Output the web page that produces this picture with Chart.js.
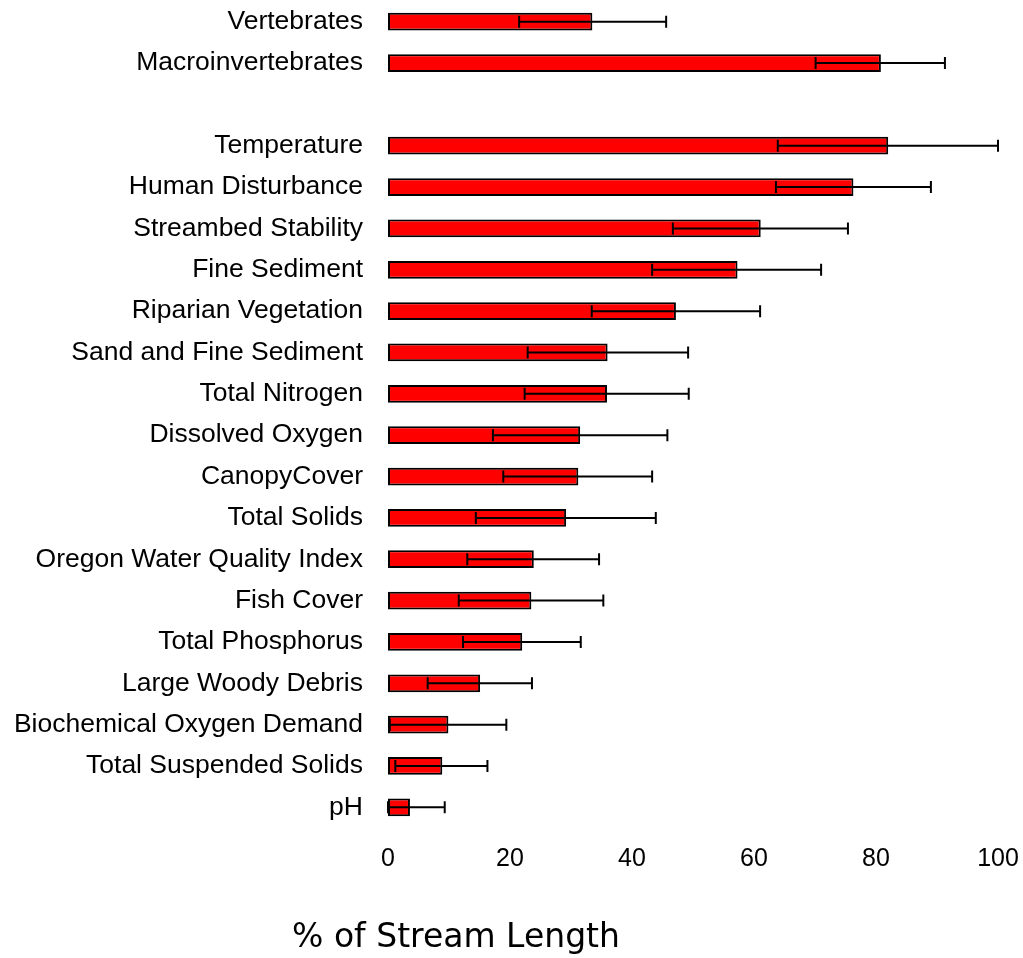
<!DOCTYPE html>
<html>
<head>
<meta charset="utf-8">
<script src="https://cdn.jsdelivr.net/npm/chart.js@4"></script>
<style>
  body { margin: 0; background: #fff; }
  #wrap { width: 1023px; height: 958px; position: relative; }
</style>
</head>
<body>
<div id="wrap"><canvas id="barChart"></canvas></div>
<script>
// categories (blank one is the gap between the biota and the stressors)
const categories = [
  "Vertebrates", "Macroinvertebrates", "",
  "Temperature", "Human Disturbance", "Streambed Stability", "Fine Sediment",
  "Riparian Vegetation", "Sand and Fine Sediment", "Total Nitrogen",
  "Dissolved Oxygen", "CanopyCover", "Total Solids",
  "Oregon Water Quality Index", "Fish Cover", "Total Phosphorus",
  "Large Woody Debris", "Biochemical Oxygen Demand",
  "Total Suspended Solids", "pH",
];
const percentLength = [
  33.5, 80.8, null, 82.0, 76.3, 61.1, 57.3, 47.2, 36.0, 35.9,
  31.5, 31.2, 29.2, 23.9, 23.5, 22.0, 15.1, 9.9, 8.9, 3.6,
];
const errorLow = [
  21.5, 70.1, null, 63.9, 63.6, 46.7, 43.3, 33.4, 22.9, 22.4,
  17.2, 18.9, 14.4, 13.0, 11.6, 12.3, 6.5, 0.3, 1.2, 0,
];
const errorHigh = [
  45.6, 91.3, null, 100, 89.0, 75.4, 71.0, 61.0, 49.2, 49.3,
  45.8, 43.3, 43.9, 34.6, 35.3, 31.6, 23.6, 19.4, 16.3, 9.3,
];
const xTicks = [0, 20, 40, 60, 80, 100];
const axisTitle = "% of Stream Length";

// whiskers drawn through the x scale
const errorBars = {
  id: "errorBars",
  afterDatasetsDraw(chart) {
    const ctx = chart.ctx;
    const xs = chart.scales.x;
    const meta = chart.getDatasetMeta(0);
    ctx.save();
    ctx.strokeStyle = "#000";
    ctx.lineWidth = 2;
    meta.data.forEach((bar, i) => {
      if (errorLow[i] == null) return;
      const y = bar.y;
      const x1 = xs.getPixelForValue(errorLow[i]);
      const x2 = xs.getPixelForValue(errorHigh[i]);
      ctx.beginPath();
      ctx.moveTo(x1, y);
      ctx.lineTo(x2, y);
      ctx.moveTo(x1, y - 6);
      ctx.lineTo(x1, y + 6);
      ctx.moveTo(x2, y - 6);
      ctx.lineTo(x2, y + 6);
      ctx.stroke();
    });
    ctx.restore();
  },
};

// axis title sits left of the plot centre, as in the original
const bottomTitle = {
  id: "bottomTitle",
  afterDraw(chart) {
    const ctx = chart.ctx;
    ctx.save();
    ctx.fillStyle = "#000";
    ctx.font = "33px 'DejaVu Sans', Verdana, sans-serif";
    ctx.textAlign = "center";
    ctx.textBaseline = "middle";
    ctx.fillText(axisTitle, 456, 938);
    ctx.restore();
  },
};

const labelFont = "'Liberation Sans', Arial, sans-serif";

const ctx = document.getElementById("barChart").getContext("2d");
const myChart = new Chart(ctx, {
  type: "bar",
  data: {
    labels: categories,
    datasets: [
      {
        label: axisTitle,
        data: percentLength,
        backgroundColor: "#ff0000",
        borderColor: "#000000",
        borderWidth: 2,
        borderSkipped: false,
        categoryPercentage: 1,
        barPercentage: 0.43,
      },
    ],
  },
  options: {
    indexAxis: "y",
    responsive: true,
    maintainAspectRatio: false,
    animation: false,
    layout: { padding: { top: 1, right: 25, bottom: 0, left: 0 } },
    plugins: {
      legend: { display: false },
      tooltip: { enabled: false },
    },
    scales: {
      x: {
        min: 0,
        max: 100,
        grid: { display: false, drawTicks: false },
        border: { display: false },
        afterBuildTicks: (scale) => {
          scale.ticks = xTicks.map((v) => ({ value: v }));
        },
        afterFit: (scale) => {
          scale.height = 130;
          scale.paddingLeft = 0;
          scale.paddingRight = 0;
        },
        ticks: {
          color: "#000",
          padding: 16,
          maxRotation: 0,
          font: { family: labelFont, size: 25 },
        },
      },
      y: {
        grid: { display: false, drawTicks: false },
        border: { display: false },
        afterFit: (scale) => {
          scale.width = 388;
          scale.paddingTop = 0;
          scale.paddingBottom = 0;
        },
        ticks: {
          color: "#000",
          padding: 25,
          autoSkip: false,
          font: { family: labelFont, size: 26.5 },
        },
      },
    },
  },
  plugins: [errorBars, bottomTitle],
});
</script>
</body>
</html>
